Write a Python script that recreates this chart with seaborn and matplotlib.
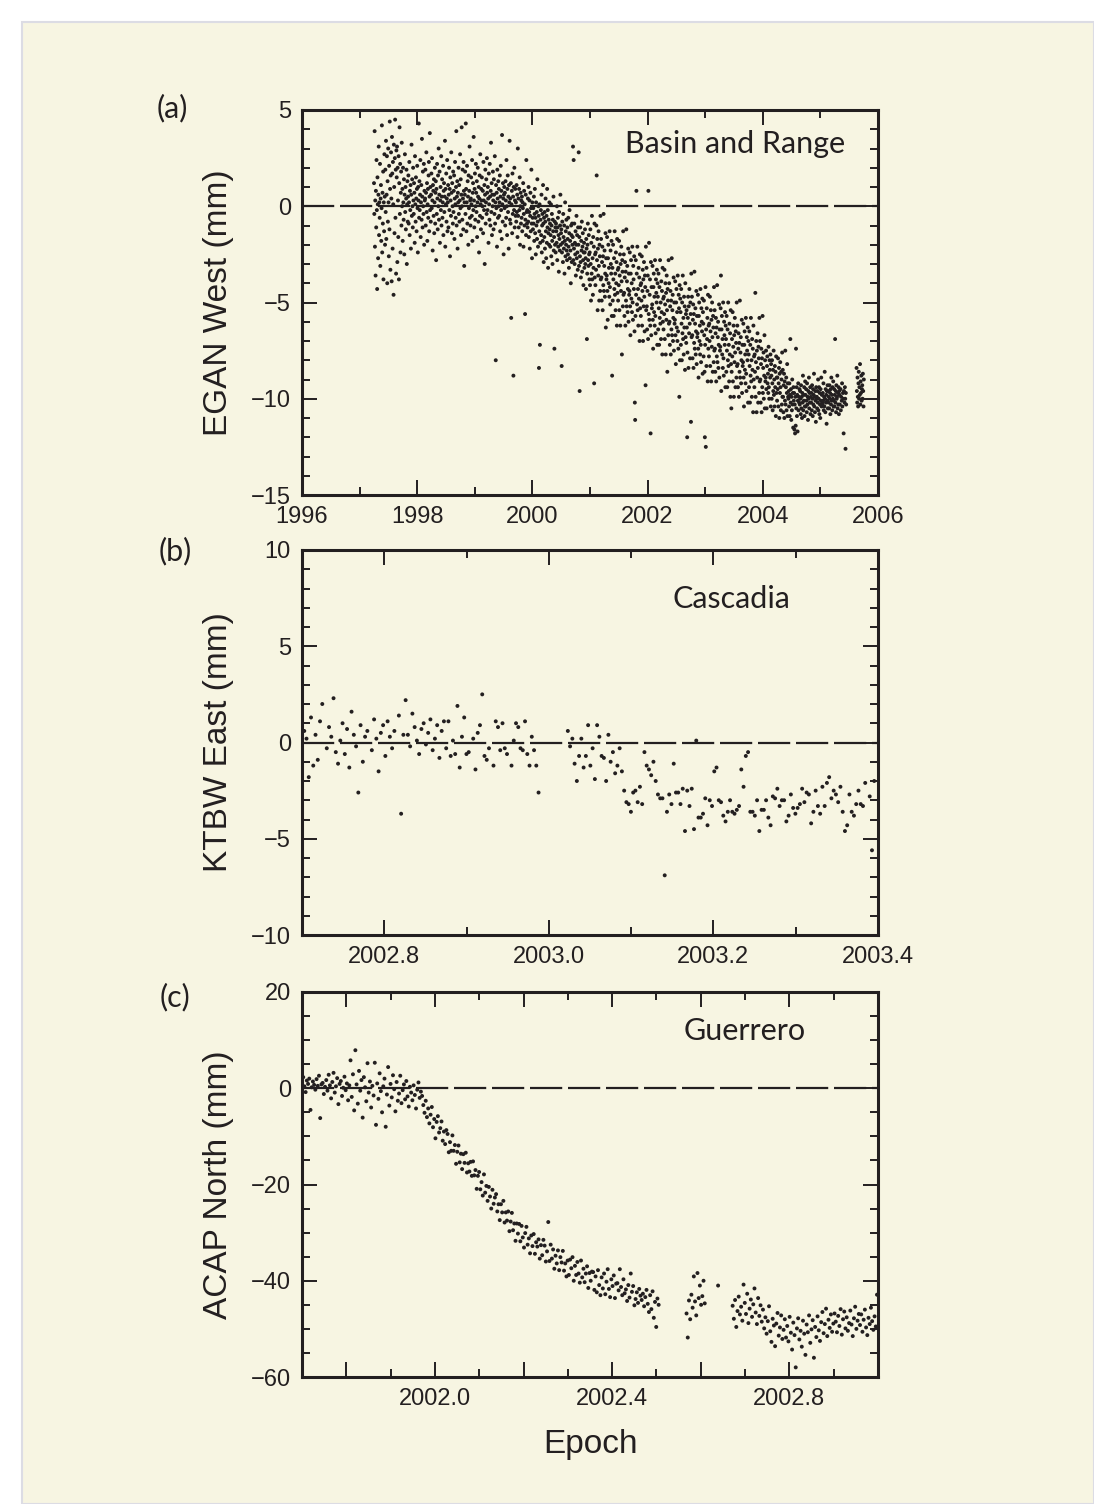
import numpy as np
import pandas as pd
import matplotlib
matplotlib.use("Agg")
import matplotlib.pyplot as plt
from matplotlib.patches import Rectangle
from matplotlib.ticker import MultipleLocator, FixedLocator, FixedFormatter
import seaborn as sns

N = None

# ---------------- Panel (a): EGAN West, Basin and Range ----------------
# rows of 18 samples, one sample every 2 days, row k starts at A_START + k*18*2 days
A_START = 1997.25
A_STEP_DAYS = 2
EGAN_WEST = [
    [1.2, -0.4, 3.9, -2.1, 0.3, -3.6, 0.8, -1.1, 2.4, -0.2, -4.3, 1.5, 0.1, -2.7, 0.6, 3.1, -1.5, 0.2],
    [-0.6, 2.2, -3.1, 0.4, 1.1, -1.8, -0.1, 4.2, -2.4, 0.7, -0.9, 1.8, -3.8, 0.2, -1.3, 2.7, 0.5, -2.0],
    [1.9, -0.3, 3.4, -1.7, 0.6, 2.6, -4.0, 1.3, -0.8, 3.0, 0.2, -2.6, 2.1, -1.2, 4.4, 0.9, -3.3, 1.6],
    [2.8, 0.4, -3.9, 3.6, 1.7, -2.2, 2.3, 0.1, -4.6, 3.2, 1.0, -1.4, 2.5, 4.5, -0.6, 1.9, -3.5, 2.9],
    [1.5, 3.1, -2.9, 2.0, 0.3, -1.6, 2.6, -3.8, 1.2, 4.1, -0.4, 2.2, -2.4, 0.7, 1.8, -1.0, 3.3, 0.0],
    [0.9, -1.8, 2.0, 0.2, -0.7, 1.4, -2.5, 0.6, 2.7, -0.3, 1.0, -1.2, 0.4, 1.9, -3.0, 0.1, 1.3, -0.8],
    [0.5, 1.6, -0.9, 0.2, 2.3, -1.5, 0.8, -0.2, 1.1, -2.2, 0.6, 3.2, -0.5, 1.4, 0.0, -1.1, 2.0, 0.3],
    [-0.4, 1.2, 0.7, -1.9, 2.6, 0.1, -0.8, 1.5, 0.4, -1.3, 0.9, 2.1, -0.1, -2.4, 1.0, 0.3, 4.3, -0.6],
    [1.3, -0.2, 0.6, 2.4, -1.6, 0.2, 1.1, -0.7, 3.5, 0.5, -1.1, 1.8, 0.0, -0.4, 2.2, -2.0, 0.8, 0.3],
    [0.4, 1.9, -1.0, 0.7, 2.8, -0.3, 1.2, -1.8, 0.1, 0.9, -0.6, 1.6, 2.3, -1.3, 0.5, 3.8, -0.2, 1.0],
    [-0.8, 0.6, 1.7, -0.1, 2.5, 0.3, -2.3, 1.1, 0.8, -0.5, 1.4, -1.4, 0.2, 2.0, -0.9, 0.7, 1.3, -2.8],
    [0.9, -0.4, 2.2, 0.4, -1.2, 1.6, 0.0, 3.0, -0.7, 0.6, 1.8, -1.9, 0.3, 1.0, -0.2, 2.6, -1.0, 0.5],
    [1.4, -0.6, 0.2, 2.1, -1.5, 0.8, 1.2, -0.3, 0.5, 3.4, -2.1, 0.9, 0.1, 1.7, -0.8, 0.4, 2.4, -1.3],
    [0.2, 1.1, -1.1, 0.6, 2.0, -0.2, 0.9, -2.6, 1.5, 0.3, -0.5, 2.8, 0.7, -1.4, 1.2, 0.0, -0.9, 1.8],
    [-0.3, 0.8, 1.6, -1.7, 0.4, 2.3, 0.1, -0.6, 1.0, 3.9, -1.0, 0.5, 1.3, -2.2, 0.7, 0.2, 2.0, -0.4],
    [1.1, -0.8, 0.3, 2.7, -0.1, 1.4, -1.5, 0.6, 4.1, 0.0, -0.7, 1.9, 0.4, -1.2, 2.3, 0.8, -3.1, 0.2],
    [0.6, 1.8, -0.4, 4.3, 0.9, -1.3, 0.2, 2.1, -0.9, 1.3, 0.5, -2.0, 1.6, -0.1, 0.8, 3.1, -0.6, 0.3],
    [-1.0, 0.4, 1.5, 0.1, -0.5, 2.4, -1.8, 0.7, 1.2, -0.2, 3.6, 0.3, -1.1, 0.9, 1.7, -0.7, 0.0, 2.2],
    [0.7, -0.3, 1.3, -1.6, 0.2, 2.0, 0.5, -0.8, 1.0, -2.4, 0.4, 1.6, -0.5, 2.7, 0.1, -1.2, 0.9, 0.3],
    [1.5, -0.6, 0.0, 0.8, -1.4, 2.3, 0.3, -0.2, 1.1, -3.0, 0.6, 1.9, -0.9, 0.2, 1.4, -0.4, 2.5, 0.7],
    [-0.2, 1.0, 0.4, -1.9, 1.7, 0.1, -0.7, 2.2, 0.5, -1.0, 0.8, 3.3, -0.3, 1.2, -1.5, 0.6, 0.0, 1.8],
    [0.3, -1.2, 1.4, 0.6, -0.4, 2.6, -0.9, 0.2, -8.0, 1.1, -0.1, 0.7, -2.1, 1.9, 0.4, -0.6, 1.3, 0.0],
    [0.9, -0.5, 0.2, 1.6, -1.3, 0.5, 2.1, -0.2, 0.8, -1.7, 3.7, 0.1, -0.8, 1.2, 0.4, -2.5, 0.6, 1.0],
    [-0.1, 0.7, -1.0, 1.3, 0.3, -0.6, 2.4, 0.0, -1.5, 0.9, 1.6, -0.3, 0.5, -2.2, 1.1, 0.2, 3.4, -0.7],
    [0.4, -0.9, 1.2, -5.8, 0.1, 0.8, -1.4, 1.7, -0.4, 0.5, -8.8, 1.0, -0.2, 2.0, -1.1, 0.3, 0.9, -0.5],
    [0.2, -0.8, 1.1, -0.3, 0.6, -1.6, 3.0, -0.5, 0.4, -1.1, 0.9, -0.2, 1.5, -2.0, 0.0, 0.7, -0.9, 0.3],
    [-0.6, 0.5, -1.3, 0.2, -0.1, 1.2, -2.1, -0.4, 0.8, -1.0, 0.1, -5.6, -0.7, 0.6, -1.5, 2.4, -0.3, -0.9],
    [-0.2, -1.1, 0.4, -0.8, 1.0, -1.6, -0.3, 0.3, -2.2, -0.5, 0.7, -1.3, -0.1, 1.9, -0.9, -2.7, 0.2, -0.6],
    [-1.2, -0.1, -0.9, 0.5, -1.8, -0.4, 0.9, -1.4, -0.6, -2.5, 0.2, -1.0, -0.3, -1.7, 1.4, -0.8, -2.1, 0.0],
    [-0.5, -8.4, -1.3, 0.1, -7.2, -1.9, -0.7, -0.2, -1.5, 0.6, -2.4, -1.0, -0.4, -1.8, 1.1, -0.9, -2.9, -0.6],
    [-1.6, -0.3, -2.2, -0.8, 0.4, -1.3, -2.7, -0.5, -1.9, 0.9, -1.1, -0.2, -3.2, -1.4, -0.7, -2.0, 0.2, -1.2],
    [-0.9, -2.1, -1.5, 0.1, -2.6, -1.0, -0.4, -1.8, -3.0, -0.7, -1.3, 0.5, -2.3, -1.6, -7.4, -0.8, -2.0, -1.1],
    [-2.4, -0.9, -1.3, -1.9, 0.0, -2.8, -1.1, -0.6, -2.1, -1.5, -3.4, -0.3, -1.7, -2.3, -1.0, 0.6, -2.0, -1.4],
    [-1.2, -8.3, -2.4, -0.8, -1.9, -2.9, -0.4, -1.6, -2.2, -1.0, -3.5, -1.8, 0.2, -2.6, -1.3, -2.0, -0.7, -2.3],
    [-2.8, -1.1, -1.7, -2.5, -0.6, -2.1, -3.2, -1.4, -0.2, -2.7, -1.8, -2.3, -4.0, -1.0, -1.5, -2.9, -0.9, -2.0],
    [-1.6, 3.1, -2.8, 2.4, -2.2, -0.9, -3.0, -1.9, -2.5, -1.3, -3.6, -2.0, -0.5, -2.7, -1.5, -2.4, -3.3, -1.1],
    [-2.0, 2.8, -3.1, -1.6, -9.6, -2.6, -1.1, -2.9, -3.7, -1.8, -2.3, -0.8, -3.4, -2.1, -1.4, -2.8, -4.1, -2.4],
    [-1.9, -3.2, -2.4, -1.2, -3.0, -2.7, -4.3, -1.7, -2.2, -6.9, -3.5, -2.0, -0.9, -2.8, -3.1, -1.5, -2.5, -3.8],
    [-2.4, -4.1, -1.2, -3.0, -4.9, -1.9, -3.5, -0.5, -3.8, -2.7, -4.6, -1.6, -3.2, -2.1, -9.2, -0.9, -3.7, -2.5],
    [-4.1, -2.4, -3.3, -1.0, 1.6, -2.8, -1.7, -5.4, -2.2, -3.6, -1.3, -3.1, -4.9, -2.0, -2.6, -4.4, -0.5, -3.8],
    [-1.7, -3.7, -4.9, -2.9, -2.1, -5.4, -2.6, -4.1, -0.4, -4.4, -3.1, -2.3, -4.7, -3.5, -1.4, -6.3, -2.7, -3.8],
    [-3.6, -1.6, -4.4, -5.9, -2.7, -2.0, -4.0, -3.2, -4.7, -1.3, -4.2, -5.1, -2.3, -3.0, -3.5, -1.8, -5.7, -8.8],
    [-3.2, -4.9, -2.0, -3.8, -5.7, -2.7, -4.3, -1.3, -4.6, -3.5, -5.4, -2.4, -4.0, -2.9, -6.2, -1.7, -4.5, -3.3],
    [-4.9, -3.2, -4.1, -1.8, -5.4, -3.6, -2.5, -6.2, -3.0, -4.4, -2.1, -3.9, -7.7, -2.8, -3.4, -5.2, -1.3, -4.6],
    [-2.5, -4.5, -5.7, -3.7, -2.9, -6.2, -3.4, -4.9, -1.2, -5.2, -3.9, -3.1, -5.5, -4.3, -2.2, -6.0, -3.5, -4.6],
    [-4.4, -2.4, -5.2, -6.7, -3.5, -2.8, -4.8, -4.0, -5.5, -2.1, -5.0, -5.9, -3.1, -3.8, -4.3, -2.6, -6.5, -10.2],
    [-11.1, -5.7, -2.8, -4.6, 0.8, -3.5, -5.1, -2.1, -5.4, -4.3, -6.2, -3.2, -4.8, -3.7, -7.0, -2.5, -5.3, -4.1],
    [-5.7, -4.0, -4.9, -2.6, -6.2, -4.4, -3.3, -7.0, -3.8, -5.2, -2.9, -4.7, -6.5, -3.6, -4.2, -9.3, -2.1, -5.4],
    [-3.2, -5.2, -6.4, -4.4, -3.6, -6.9, 0.8, -5.6, -1.9, -5.9, -4.6, -3.8, -6.2, -11.8, -2.9, -6.7, -4.2, -5.3],
    [-5.1, -3.1, -5.9, -7.4, -4.2, -3.5, -5.5, -4.7, -6.2, -2.8, -5.7, -6.6, -3.8, -4.5, -5.0, -3.3, -7.2, -4.0],
    [-4.7, -6.4, -3.5, -5.3, -7.2, -4.2, -5.8, -2.8, -6.1, -5.0, -6.9, -3.9, -5.5, -4.4, -7.7, -3.2, -6.0, -4.8],
    [-6.4, -4.7, -5.6, -3.3, -6.9, -5.1, -4.0, -7.7, -4.5, -5.9, -3.6, -5.4, -8.6, -4.3, -4.9, -6.7, -2.8, -6.1],
    [-4.0, -6.0, -7.2, -5.2, -4.4, -7.7, -4.9, -6.4, -2.7, -6.7, -5.4, -4.6, -7.0, -5.8, -3.7, -7.5, -5.0, -6.1],
    [-5.9, -3.9, -6.7, -8.2, -5.0, -4.3, -6.3, -5.5, -7.0, -3.6, -6.5, -7.4, -4.6, -5.3, -9.9, -4.1, -8.0, -4.8],
    [-5.5, -7.2, -4.3, -6.1, -8.0, -5.0, -6.6, -3.6, -6.9, -5.8, -7.7, -4.7, -6.3, -5.2, -8.5, -4.0, -6.8, -5.6],
    [-7.1, -5.4, -6.3, -12.0, -7.6, -5.8, -4.7, -8.4, -5.2, -6.6, -4.3, -6.1, -7.9, -5.0, -5.6, -11.2, -3.5, -6.8],
    [-4.7, -6.7, -7.9, -5.9, -5.1, -8.4, -5.6, -7.1, -3.4, -7.4, -6.1, -5.3, -7.7, -6.5, -4.4, -8.2, -5.7, -6.8],
    [-6.6, -4.6, -7.4, -8.9, -5.7, -5.0, -7.0, -6.2, -7.7, -4.3, -7.2, -8.1, -5.3, -6.0, -6.5, -4.8, -8.7, -5.5],
    [-6.1, -7.8, -4.9, -6.7, -8.6, -12.0, -7.2, -4.2, -12.5, -6.4, -8.3, -5.3, -6.9, -5.8, -9.1, -4.6, -7.4, -6.2],
    [-7.8, -6.1, -7.0, -4.7, -8.3, -6.5, -5.4, -9.1, -5.9, -7.3, -5.0, -6.8, -8.6, -5.7, -6.3, -8.1, -4.2, -7.5],
    [-5.4, -7.4, -8.6, -6.6, -5.8, -9.1, -6.3, -7.8, -4.1, -8.1, -6.8, -6.0, -8.4, -7.2, -5.1, -8.9, -6.4, -7.5],
    [-7.3, -5.3, -3.6, -9.6, -6.4, -5.7, -7.7, -6.9, -8.4, -5.0, -7.9, -8.8, -6.0, -6.7, -7.2, -5.5, -9.4, -6.2],
    [-6.9, -8.6, -5.7, -7.5, -9.4, -6.4, -8.0, -5.0, -8.3, -7.2, -9.1, -6.1, -7.7, -6.6, -9.9, -5.4, -8.2, -10.5],
    [-8.6, -6.9, -7.8, -5.5, -9.1, -7.3, -6.2, -9.9, -6.7, -8.1, -5.8, -7.6, -9.4, -6.5, -7.1, -8.9, -5.0, -8.3],
    [-6.2, -8.2, -9.4, -7.4, -6.6, -9.9, -7.1, -8.6, -4.9, -8.9, -7.6, -6.8, -9.2, -8.0, -5.9, -9.7, -7.2, -8.3],
    [-8.1, -6.1, -8.9, -10.4, -7.2, -6.5, -8.5, -7.7, -9.2, -5.8, -8.7, -9.6, -6.8, -7.5, -8.0, -6.3, -10.2, -7.0],
    [-7.7, -9.4, -6.5, -8.3, -10.2, -7.2, -8.8, -5.8, -9.1, -8.0, -9.9, -6.9, -8.5, -7.4, -10.7, -6.2, -9.0, -7.8],
    [-9.4, -7.7, -8.6, -4.5, -9.9, -8.1, -7.0, -10.7, -7.5, -8.9, -6.6, -8.4, -10.2, -7.3, -7.9, -9.7, -5.8, -9.1],
    [-7.0, -9.0, -10.2, -8.2, -7.4, -10.7, -7.9, -9.4, -5.7, -9.7, -8.4, -7.6, -10.0, -8.8, -6.7, -10.5, -8.0, -9.1],
    [-8.9, -7.5, -9.5, -10.5, -8.3, -7.8, -9.2, -8.7, -9.7, -7.3, -9.4, -10.0, -8.0, -8.5, -8.9, -7.7, -10.4, -8.2],
    [-8.8, -10.0, -8.0, -9.2, -10.6, -8.5, -9.6, -7.5, -9.8, -9.0, -10.4, -8.3, -9.4, -8.6, -10.9, -7.8, -9.7, -8.9],
    [-10.1, -8.9, -9.5, -7.9, -10.4, -9.2, -8.4, -11.0, -8.7, -9.7, -8.1, -9.4, -10.6, -8.6, -9.0, -10.3, -7.6, -9.9],
    [-8.5, -9.9, -10.7, -9.3, -8.7, -11.0, -9.1, -10.1, -7.5, -10.3, -9.4, -8.9, -10.6, -9.7, -8.2, -10.9, -9.2, -9.9],
    [-10.0, -9.6, -10.4, -9.2, -10.9, -9.8, -6.9, -10.2, -9.5, -11.1, -9.9, -10.6, -9.0, -10.3, -9.7, -11.5, -9.4, -10.1],
    [-9.7, -11.6, -10.3, -11.8, -9.9, -11.4, -7.4, -10.5, -9.4, -10.9, -9.8, -11.7, -10.1, -9.2, -10.6, -9.9, -10.2, -9.5],
    [-10.3, -9.6, -10.0, -10.8, -9.3, -10.5, -9.9, -11.0, -9.7, -10.2, -8.8, -10.6, -9.8, -10.1, -9.4, -10.9, -10.4, -9.1],
    [-9.8, -10.4, -9.5, -10.1, -10.7, -9.2, -10.3, -9.9, -11.1, -9.6, -10.0, -8.9, -10.5, -9.7, -10.2, -9.4, -10.8, -9.9],
    [-10.2, -9.7, -10.6, -9.3, -10.0, -10.9, -9.5, -10.3, -9.8, -8.7, -10.4, -9.9, -10.7, -9.6, -10.1, -11.2, -9.4, -10.0],
    [-9.9, -10.5, -9.6, -10.2, -9.0, -10.6, -10.0, -9.4, -10.8, -9.7, -10.3, -11.0, -9.5, -10.1, -8.9, -10.4, -9.8, -10.2],
    [-10.3, -9.7, -10.1, -9.2, -10.6, -9.9, -10.4, -8.6, -10.0, -10.7, -9.5, -10.2, -9.8, -11.3, -9.6, -10.1, -9.3, -10.5],
    [-9.6, -10.2, -9.9, -10.5, -9.3, -10.0, -9.7, -10.8, -9.5, -10.3, -8.9, -10.1, -9.8, -10.6, -9.4, -10.0, -9.1, -10.4],
    [-10.1, -9.5, -10.4, -9.8, -6.9, -10.2, -9.6, -10.7, -9.3, -10.0, -9.9, -8.8, -10.5, -9.7, -10.3, -9.4, -10.8, -9.6],
    [-9.8, -10.3, N, -9.5, -10.6, -9.9, N, -10.1, -9.2, -10.4, N, -9.7, -10.0, -11.8, -9.6, N, -10.2, -9.4],
    [-10.0, -12.6, -9.7, -10.3, N, N, N, N, N, N, N, N, N, N, N, N, N, N],
    [N, N, N, N, N, N, N, N, N, N, N, N, N, N, N, N, N, N],
    [-8.4, -9.6, -10.2, -8.9, -9.9, -10.4, -9.2, -8.6, -10.0, -9.4, -9.8, -8.2, -10.3, -9.1, -9.7, -8.8, -10.1, -9.5],
    [-9.3, -10.0, -8.7, -9.6, -10.4, -9.0],
]

# ---------------- Panel (b): KTBW East, Cascadia ----------------
# rows of 16 daily samples, row k starts at B_START + k*16 days
B_START = 2002.70
B_STEP_DAYS = 1
KTBW_EAST = [
    [N, 0.6, 0.2, -1.8, 1.3, -1.2, 0.4, -0.9, 1.1, 2.0, N, -0.3, 0.8, 0.3, 2.3, -0.5],
    [-1.1, 0.1, 1.0, -0.6, 0.7, -1.3, 1.6, 0.4, -0.2, -2.6, 0.9, -1.0, 0.3, 0.6, N, -0.4],
    [1.2, 0.2, -1.5, 0.5, 0.9, -0.7, 1.1, 0.3, -0.3, 0.6, N, 1.4, -3.7, 0.4, 2.2, 0.4],
    [-0.2, 1.5, 0.8, 0.1, -0.6, 0.7, 1.0, -0.1, 0.5, 1.2, -0.4, 0.2, 0.9, -0.8, 0.6, 1.1],
    [-0.3, 1.1, -0.7, 0.1, -0.6, 1.9, -1.3, 0.3, 1.3, -0.6, -0.5, N, 0.2, -1.4, 0.5, 0.9],
    [2.5, -0.7, -0.9, -0.3, N, -1.2, 1.1, 0.8, -0.4, 1.0, -0.3, -0.6, N, -1.2, 0.1, 1.0],
    [0.8, -0.3, -0.4, 1.1, -0.6, -1.2, 0.3, -0.4, -1.2, -2.6, N, N, N, N, N, N],
    [N, N, N, N, N, N, 0.6, -0.2, 0.2, -1.1, -2.0, -0.7, 0.2, -1.3, -0.7, 0.9],
    [-1.2, -0.3, -1.9, 0.9, 0.3, -0.7, -0.8, -2.0, 0.4, -1.0, -0.5, -1.6, -1.2, -0.3, -1.5, -2.5],
    [-3.1, -3.2, -3.6, -2.6, -2.5, -3.1, -2.3, -3.2, -0.5, -1.2, -1.4, -1.7, -1.0, -2.0, -2.7, -2.9],
    [-2.9, -6.9, -3.6, -2.7, -3.2, -1.1, -2.6, -2.6, -3.2, -2.4, -4.6, -2.5, -3.3, -2.4, -4.5, 0.1],
    [-3.9, -3.9, -3.7, -2.9, -4.3, -3.0, -3.3, -1.5, -1.3, -3.0, -3.1, -3.8, -4.1, -3.6, -3.0, -3.6],
    [-3.7, -3.5, -3.3, -1.4, -2.3, -0.7, -0.5, -3.6, -3.6, -3.8, -3.0, -4.6, -3.5, -3.5, -3.0, -3.9],
    [-4.3, -2.8, -2.9, -2.4, -3.3, -3.0, -3.0, -4.1, -3.8, -2.7, -3.4, -3.7, -3.4, -3.2, -2.4, -3.1],
    [-2.6, -2.7, -4.2, -3.6, -2.5, -3.3, -3.7, -2.3, -3.3, -2.1, -1.8, -2.9, -2.5, -2.7, -3.1, -2.3],
    [-3.6, -4.6, -4.3, -2.7, -3.6, -3.8, -3.2, -2.5, -3.2, -3.3, -2.1, N, -2.8, -5.6, -2.0, N],
]

# ---------------- Panel (c): ACAP North, Guerrero ----------------
# rows of 20 daily samples, row k starts at C_START + k*20 days
C_START = 2001.70
C_STEP_DAYS = 1
ACAP_NORTH = [
    [1.2, 2.3, 0.4, -0.8, 1.6, 0.9, 2.0, -4.5, 0.2, 1.4, 0.7, -0.3, 1.9, 0.5, 2.6, -6.2, 0.8, 1.1, -1.2, 0.3],
    [1.7, -0.5, 2.8, 0.6, -2.1, 1.3, 3.2, -0.9, 0.4, 2.1, -3.3, 0.9, 1.5, -1.6, 0.1, 2.4, -0.4, 1.0, -2.5, 0.6],
    [5.8, -1.8, 2.9, -4.6, 7.9, 0.8, -3.2, 3.6, -0.5, 1.7, -6.1, 2.3, 0.2, -2.7, 5.2, -0.9, 1.4, -4.0, 0.5, -1.5],
    [5.3, -7.6, 1.0, -2.2, 3.1, -0.6, -5.0, 0.4, 2.0, -8.0, -1.3, 4.4, -3.6, 0.9, -1.9, 2.7, -0.2, -4.8, 1.3, -2.6],
    [-1.1, 2.6, -3.1, -0.4, 0.8, -2.3, 1.5, -1.7, -3.8, 0.3, -0.9, -2.5, 0.6, -1.4, -4.2, -0.3, 1.2, -2.0, -0.7, -1.6],
    [-3.5, -5.1, -2.6, -6.0, -4.2, -7.3, -5.5, -3.9, -8.1, -6.4, -10.4, -7.0, -5.8, -9.2, -8.3, -6.9, -10.9, -9.0, -11.6, -8.7],
    [-9.5, -13.3, -11.2, -13.0, -9.8, -13.0, -11.8, -15.7, -13.2, -11.9, -15.4, -13.6, -16.8, -13.7, -15.5, -13.4, -17.5, -15.6, -17.3, -15.3],
    [-18.2, -15.2, -18.1, -17.0, -20.9, -18.2, -17.4, -21.0, -19.5, -22.3, -17.9, -21.7, -20.3, -23.4, -20.5, -22.5, -25.0, -21.1, -24.0, -22.7],
    [-22.0, -25.6, -24.1, -27.4, -24.1, -25.8, -23.4, -27.9, -25.8, -27.5, -25.6, -29.7, -27.7, -25.9, -29.5, -28.1, -31.7, -28.1, -30.2, -28.2],
    [-31.8, -28.6, -31.0, -33.1, -30.1, -28.8, -32.5, -31.2, -34.3, -30.6, -32.8, -30.3, -34.4, -32.0, -32.9, -31.4, -35.4, -32.6, -34.7, -31.5],
    [-32.7, -36.0, -33.9, -27.8, -35.9, -32.5, -35.4, -33.5, -37.5, -34.8, -36.4, -33.7, -37.8, -35.1, -36.2, -33.8, -37.9, -36.4, -39.1, -35.8],
    [-38.8, -35.6, -37.4, -35.1, -40.0, -36.9, -38.8, -36.1, -38.5, -40.4, -35.8, -39.3, -37.5, -40.3, -38.5, -37.0, -41.5, -38.4, -40.0, -38.1],
    [-38.2, -41.9, -39.1, -42.4, -37.8, -40.9, -43.0, -39.3, -41.6, -38.5, -42.8, -40.2, -37.6, -41.7, -43.4, -39.7, -41.1, -38.9, -43.6, -40.6],
    [-40.5, -42.0, -37.6, -41.3, -43.0, -39.7, -42.6, -41.8, -44.2, -40.9, -43.5, -38.5, -42.3, -41.1, -45.1, -43.8, -42.4, -44.6, -41.7, -43.1],
    [-44.0, -42.7, -45.3, -43.4, -41.9, -44.8, -46.5, -43.0, -45.9, -42.2, -47.7, -44.4, -49.6, -43.7, -45.0, N, N, N, N, N],
    [N, N, N, N, N, N, N, N, N, N, N, N, N, N, N, N, N, -46.8, -51.8, -44.1],
    [-48.0, -42.9, -45.6, -39.1, -44.3, -47.2, -38.4, -43.6, -41.0, -45.0, -43.2, -40.0, -44.7, N, N, N, N, N, N, N],
    [N, N, N, -41.0, N, N, N, N, N, N, N, N, N, N, N, -45.2, -47.9, -44.0, -49.6, -46.3],
    [-43.3, -47.0, -45.4, -48.3, -40.8, -44.6, -46.9, -42.7, -48.8, -45.8, -43.9, -47.5, -44.9, -41.6, -46.6, -49.0, -43.6, -47.3, -45.1, -48.5],
    [-46.0, -49.9, -47.6, -51.0, -48.4, -45.3, -50.5, -52.7, -47.9, -49.3, -53.6, -48.9, -46.7, -51.4, -49.7, -47.2, -52.1, -50.2, -48.0, -51.8],
    [-49.4, -52.6, -47.5, -50.8, -54.3, -48.7, -51.3, -58.0, -49.9, -47.8, -52.2, -50.4, -53.7, -48.3, -51.0, -55.4, -49.1, -50.7, -47.2, -52.9],
    [-50.1, -48.2, -56.0, -49.6, -51.7, -47.4, -50.3, -52.5, -48.6, -46.5, -50.9, -49.0, -45.8, -51.5, -48.1, -49.8, -47.0, -50.6, -48.9, -46.8],
    [-48.5, -50.7, -47.3, -49.4, -45.9, -51.2, -48.0, -46.4, -49.9, -47.6, -50.4, -48.8, -46.2, -49.1, -51.5, -47.8, -45.4, -50.0, -48.3, -46.9],
    [-49.2, -47.0, -50.6, -48.1, -46.0, -49.7, -51.3, -47.7, -49.0, -45.6, -48.4, -50.2, -47.4, -49.5, -42.9],
]

# ---------------- Axis / tick definitions ----------------
A_XLIM, A_YLIM = (1996, 2006), (-15, 5)
B_XLIM, B_YLIM = (2002.7, 2003.4), (-10, 10)
C_XLIM, C_YLIM = (2001.7, 2003.0), (-60, 20)

A_XTICKS = [1996, 1998, 2000, 2002, 2004, 2006]
A_XLABELS = ["1996", "1998", "2000", "2002", "2004", "2006"]
B_XTICKS = [2002.8, 2003.0, 2003.2, 2003.4]
B_XLABELS = ["2002.8", "2003.0", "2003.2", "2003.4"]
C_XTICKS = [2001.8, 2002.0, 2002.2, 2002.4, 2002.6, 2002.8, 2003.0]
C_XLABELS = ["", "2002.0", "", "2002.4", "", "2002.8", ""]

TITLES = ["Basin and Range", "Cascadia", "Guerrero"]
YLABELS = ["EGAN West (mm)", "KTBW East (mm)", "ACAP North (mm)"]
PANEL_TAGS = ["(a)", "(b)", "(c)"]


def to_frame(rows, start, step_days):
    per_row = max(len(r) for r in rows)
    recs = []
    for k, row in enumerate(rows):
        for i, v in enumerate(row):
            if v is None:
                continue
            epoch = start + (k * per_row + i) * step_days / 365.25
            recs.append((epoch, v))
    return pd.DataFrame(recs, columns=["epoch", "mm"])


df_a = to_frame(EGAN_WEST, A_START, A_STEP_DAYS)
df_b = to_frame(KTBW_EAST, B_START, B_STEP_DAYS)
df_c = to_frame(ACAP_NORTH, C_START, C_STEP_DAYS)

# ---------------- Styling ----------------
sns.set_style("ticks")
INK = "#231f20"
CREAM = "#f7f5e2"
plt.rcParams["font.family"] = ["Liberation Sans", "DejaVu Sans"]
plt.rcParams["axes.unicode_minus"] = True

fig = plt.figure(figsize=(10.94, 15.04), dpi=100, facecolor="white")
fig.patches.append(Rectangle((22 / 1094, 0), 1 - 22 / 1094, 1 - 22 / 1504,
                             transform=fig.transFigure, facecolor=CREAM,
                             edgecolor="#dcdce4", linewidth=1.5, zorder=-10))

W = 576 / 1094
H = 385 / 1504
L = 302 / 1094
rects = [
    [L, 1 - 495 / 1504, W, H],
    [L, 1 - 935 / 1504, W, H],
    [L, 1 - 1377 / 1504, W, H],
]

panels = [
    (df_a, A_XLIM, A_YLIM, A_XTICKS, A_XLABELS, 1.0, 5, 1, (0.752, 0.912)),
    (df_b, B_XLIM, B_YLIM, B_XTICKS, B_XLABELS, 0.1, 5, 1, (0.745, 0.872)),
    (df_c, C_XLIM, C_YLIM, C_XTICKS, C_XLABELS, 0.1, 20, 5, (0.769, 0.899)),
]
tag_pos = [(172, 108), (175, 551), (175, 997)]

for idx, (df, xlim, ylim, xt, xl, xminor, ymajor, yminor, tpos) in enumerate(panels):
    ax = fig.add_axes(rects[idx])
    ax.set_facecolor(CREAM)
    ax.axhline(0, color=INK, lw=1.6, dashes=(14.5, 2.6), zorder=1)
    sns.scatterplot(data=df, x="epoch", y="mm", ax=ax, s=8, color=INK,
                    linewidth=0, edgecolor="none", zorder=2, legend=False)
    ax.set_xlim(*xlim)
    ax.set_ylim(*ylim)
    ax.xaxis.set_major_locator(FixedLocator(xt))
    ax.xaxis.set_major_formatter(FixedFormatter(xl))
    ax.xaxis.set_minor_locator(MultipleLocator(xminor))
    ax.yaxis.set_major_locator(MultipleLocator(ymajor))
    ax.yaxis.set_minor_locator(MultipleLocator(yminor))
    ax.tick_params(which="both", direction="in", top=True, right=True,
                   width=1.4, color=INK, labelcolor=INK, labelsize=17)
    ax.tick_params(which="major", length=11, pad=8)
    ax.tick_params(which="minor", length=6)
    for sp in ax.spines.values():
        sp.set_linewidth(2.2)
        sp.set_color(INK)
    ax.set_xlabel("")
    ax.set_ylabel(YLABELS[idx], fontsize=24, color=INK)
    ax.yaxis.set_label_coords(-0.118, 0.5)
    ax.text(tpos[0], tpos[1], TITLES[idx], transform=ax.transAxes,
            ha="center", va="center", fontsize=22, color=INK,
            family=["Lato", "DejaVu Sans"])
    fig.text(tag_pos[idx][0] / 1094, 1 - tag_pos[idx][1] / 1504, PANEL_TAGS[idx],
             ha="center", va="center", fontsize=22, color=INK,
             family=["Lato", "DejaVu Sans"])
    if idx == 2:
        ax.set_xlabel("Epoch", fontsize=24, color=INK)
        ax.xaxis.set_label_coords(0.5, -0.135)

fig.savefig("out.png", dpi=100, facecolor=fig.get_facecolor())
